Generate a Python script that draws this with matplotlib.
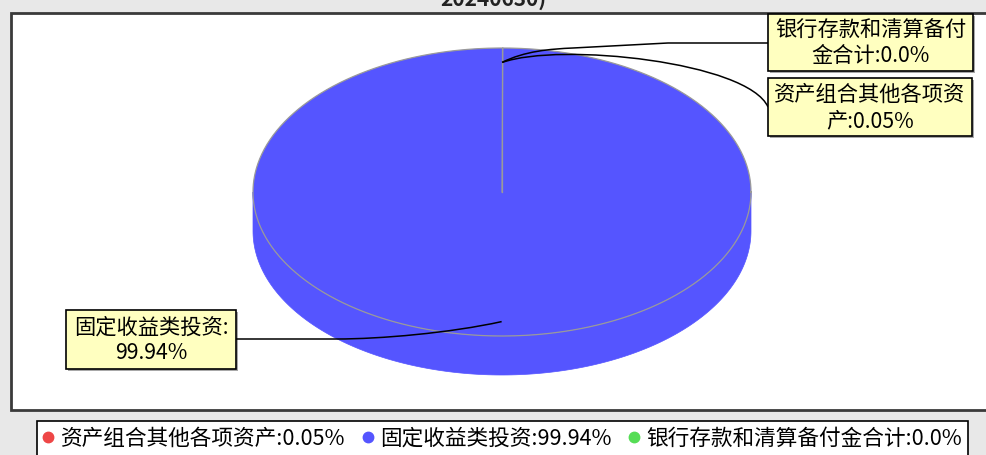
import numpy as np
import matplotlib
matplotlib.use("Agg")
import matplotlib.pyplot as plt
from matplotlib.patches import Rectangle, Polygon, PathPatch
from matplotlib.path import Path
from matplotlib.lines import Line2D

plt.rcParams['font.family'] = ['Noto Sans CJK SC', 'DejaVu Sans']

# ---- data ----
categories = ['资产组合其他各项资产', '固定收益类投资', '银行存款和清算备付金合计']
values = [0.05, 99.94, 0.0]
value_labels = ['0.05%', '99.94%', '0.0%']
colors = ['#EE4646', '#5555FF', '#55DD55']
title_text = '20240630)'

W, H = 987, 455
fig = plt.figure(figsize=(W / 100, H / 100), dpi=100)
fig.patch.set_facecolor('#E8E8E8')
ax = fig.add_axes([0, 0, 1, 1])
ax.set_xlim(0, W)
ax.set_ylim(H, 0)
ax.axis('off')

# plot area
ax.add_patch(Rectangle((10.5, 13), 990, 397, facecolor='white', edgecolor='#3A3A3A', lw=2, zorder=0))
ax.text(493, 6, title_text, ha='center', va='baseline', fontsize=15, color='#222222', fontweight='bold')

# ---- 3D pie geometry ----
cx, cy, rx, ry, depth = 502, 192, 249, 144, 39
total = sum(values)
start = 90.0
angles = []
a = start
for v in values:
    span = 360.0 * v / total
    angles.append((a - span, a))  # clockwise
    a -= span

def ell(theta_deg, frac=1.0, dz=0.0):
    t = np.radians(theta_deg)
    return cx + frac * rx * np.cos(t), cy - frac * ry * np.sin(t) + dz

# side walls (front half visible)
for (a0, a1), col in zip(angles, colors):
    if a1 - a0 <= 0:
        continue
    for shift in (-360, 0, 360):
        s0 = max(a0 + shift, 180)
        s1 = min(a1 + shift, 360)
        if s1 > s0:
            th = np.linspace(s0, s1, 200)
            top = [ell(t) for t in th]
            bot = [ell(t, dz=depth) for t in th[::-1]]
            ax.add_patch(Polygon(top + bot, closed=True, facecolor=col, edgecolor=col, lw=0.5, zorder=2))

# top faces
for (a0, a1), col in zip(angles, colors):
    if a1 - a0 <= 0:
        continue
    th = np.linspace(a0, a1, max(int((a1 - a0) * 2), 3))
    pts = [(cx, cy)] + [ell(t) for t in th]
    ax.add_patch(Polygon(pts, closed=True, facecolor=col, edgecolor='none', zorder=3))
th = np.linspace(0, 360, 720)
xs, ys = zip(*[ell(t) for t in th])
ax.plot(xs, ys, color='#9A9A9A', lw=0.9, zorder=4)
for (a0, a1), v in zip(angles, values):
    if v > 0:
        x1, y1 = ell(a1)
        ax.plot([cx, x1], [cy, y1], color='#9A9A9A', lw=0.9, zorder=4)

# ---- labels ----
boxes = {
    2: (768, 14, 205, 57),   # 银行存款
    0: (768, 78, 204, 58),   # 资产组合其他
    1: (66, 310, 170, 59),   # 固定收益
}
label_text = {
    0: '资产组合其他各项资\n产:' + value_labels[0],
    1: categories[1] + ':\n' + value_labels[1],
    2: '银行存款和清算备付\n金合计:' + value_labels[2],
}
for i, (bx, by, bw, bh) in boxes.items():
    ax.add_patch(Rectangle((bx + 2, by + 2), bw, bh, facecolor='#A8A8A8', edgecolor='none', zorder=5))
    ax.add_patch(Rectangle((bx, by), bw, bh, facecolor='#FFFFC0', edgecolor='black', lw=1.2, zorder=6))
    ax.text(bx + bw / 2, by + bh / 2 + 1, label_text[i], ha='center', va='center', fontsize=15.3,
            linespacing=1.22, color='black', zorder=7)

def mid_anchor(i):
    a0, a1 = angles[i]
    return ell((a0 + a1) / 2, frac=0.9)

def draw_path(verts, codes):
    ax.add_patch(PathPatch(Path(verts, codes), facecolor='none', edgecolor='black', lw=1.1, zorder=5))

p0 = mid_anchor(0)
bx, by, bw, bh = boxes[0]
draw_path([p0, (560, 42), (748, 62), (bx, by + 29)],
          [Path.MOVETO, Path.CURVE4, Path.CURVE4, Path.CURVE4])
p0 = mid_anchor(2)
bx, by, bw, bh = boxes[2]
draw_path([p0, (525, 51), (550, 49), (573, 48), (668, by + 29), (bx, by + 29)],
          [Path.MOVETO, Path.CURVE4, Path.CURVE4, Path.CURVE4, Path.LINETO, Path.LINETO])
p0 = mid_anchor(1)
bx, by, bw, bh = boxes[1]
draw_path([p0, (450, 333), (380, 339), (337, by + 29), (bx + bw, by + 29)],
          [Path.MOVETO, Path.CURVE4, Path.CURVE4, Path.CURVE4, Path.LINETO])

# ---- legend ----
handles = [Line2D([], [], marker='o', linestyle='none', markersize=7.5, markerfacecolor=c,
                  markeredgecolor=c) for c in colors]
leg_labels = [f'{c}:{l}' for c, l in zip(categories, value_labels)]
leg = fig.legend(handles, leg_labels, loc='upper left', bbox_to_anchor=(37 / W, 1 - 421 / H),
                 ncol=3, fontsize=15.6, frameon=True, fancybox=False, edgecolor='black',
                 facecolor='white', framealpha=1, handlelength=0.45, handletextpad=0.35,
                 columnspacing=0.8, borderpad=0.3, borderaxespad=0)
leg.get_frame().set_linewidth(1.2)

fig.savefig('out.png', dpi=100, facecolor=fig.get_facecolor())
